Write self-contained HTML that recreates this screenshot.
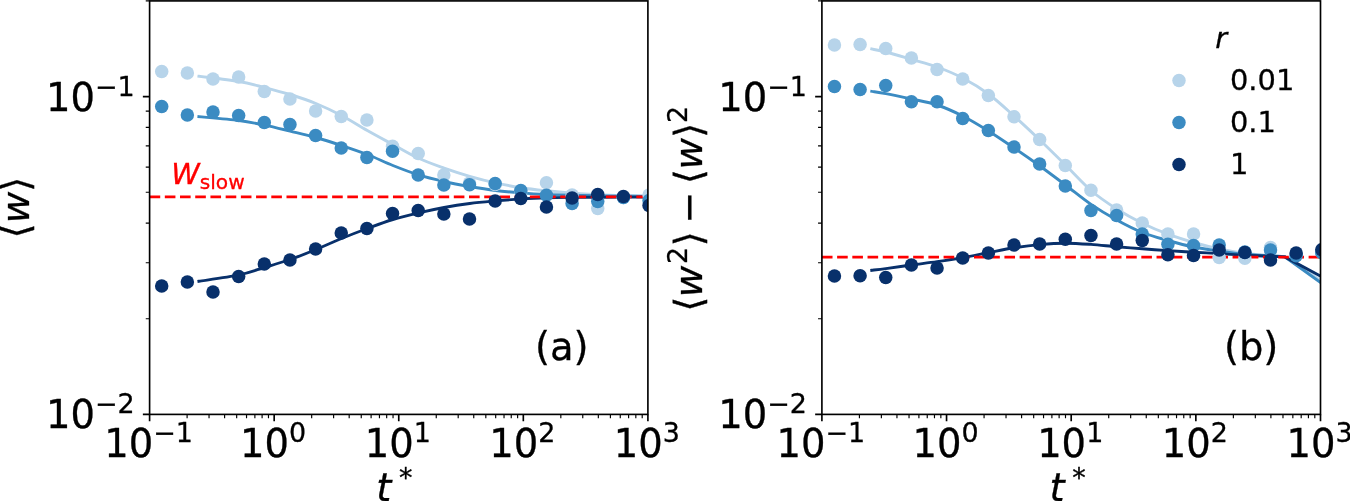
<!DOCTYPE html>
<html lang="en"><head><meta charset="utf-8"><title>Relaxation of w</title>
<style>html,body{margin:0;padding:0;background:#fff;overflow:hidden}svg{display:block;will-change:transform}text{font-family:"DejaVu Sans", "Liberation Sans", sans-serif;fill:#000;stroke:#000;stroke-width:.3px}.it{font-style:italic}</style></head><body>
<svg width="1350" height="501" viewBox="0 0 1350 501">
<rect width="1350" height="501" fill="#fff"/>
<defs>
<clipPath id="clipa"><rect x="149.60" y="0.90" width="498.30" height="413.50"/></clipPath>
<clipPath id="clipb"><rect x="821.90" y="0.90" width="498.60" height="413.50"/></clipPath>
</defs>
<g id="axes-a">
<g clip-path="url(#clipa)" fill="none" stroke-linecap="butt" stroke-linejoin="round">
<path d="M198.90,76.30 C205.57,77.17 227.97,79.63 238.90,81.50 C249.83,83.37 255.97,85.33 264.50,87.50 C273.03,89.67 281.53,91.83 290.10,94.50 C298.67,97.17 307.33,100.00 315.90,103.50 C324.47,107.00 332.93,111.00 341.50,115.50 C350.07,120.00 358.73,125.67 367.30,130.50 C375.87,135.33 384.37,139.87 392.90,144.50 C401.43,149.13 409.97,154.37 418.50,158.30 C427.03,162.23 435.57,165.10 444.10,168.10 C452.63,171.10 461.13,173.83 469.70,176.30 C478.27,178.77 486.93,181.00 495.50,182.90 C504.07,184.80 512.57,186.38 521.10,187.70 C529.63,189.02 538.17,189.90 546.70,190.80 C555.23,191.70 563.77,192.47 572.30,193.10 C580.83,193.73 589.40,194.20 597.90,194.60 C606.40,195.00 614.92,195.27 623.30,195.50 C631.68,195.73 644.05,195.92 648.20,196.00" stroke="#b7d4ea" stroke-width="2.90" stroke-linecap="square"/>
<path d="M198.90,116.60 C205.57,117.25 227.97,119.08 238.90,120.50 C249.83,121.92 255.97,123.33 264.50,125.10 C273.03,126.87 281.53,129.03 290.10,131.10 C298.67,133.17 307.33,135.10 315.90,137.50 C324.47,139.90 332.93,142.67 341.50,145.50 C350.07,148.33 358.73,151.17 367.30,154.50 C375.87,157.83 384.37,162.10 392.90,165.50 C401.43,168.90 409.97,172.23 418.50,174.90 C427.03,177.57 435.57,179.57 444.10,181.50 C452.63,183.43 461.13,185.00 469.70,186.50 C478.27,188.00 486.93,189.43 495.50,190.50 C504.07,191.57 512.57,192.23 521.10,192.90 C529.63,193.57 538.17,194.10 546.70,194.50 C555.23,194.90 563.77,195.08 572.30,195.30 C580.83,195.52 589.40,195.67 597.90,195.80 C606.40,195.93 614.92,196.00 623.30,196.10 C631.68,196.20 644.05,196.35 648.20,196.40" stroke="#3b8bc2" stroke-width="2.90" stroke-linecap="square"/>
<path d="M198.90,281.30 C205.57,280.23 227.97,277.20 238.90,274.90 C249.83,272.60 255.97,270.07 264.50,267.50 C273.03,264.93 281.53,262.50 290.10,259.50 C298.67,256.50 307.33,253.00 315.90,249.50 C324.47,246.00 332.93,242.00 341.50,238.50 C350.07,235.00 358.73,231.67 367.30,228.50 C375.87,225.33 384.37,222.10 392.90,219.50 C401.43,216.90 409.97,214.90 418.50,212.90 C427.03,210.90 435.57,209.07 444.10,207.50 C452.63,205.93 461.13,204.60 469.70,203.50 C478.27,202.40 486.93,201.67 495.50,200.90 C504.07,200.13 512.57,199.43 521.10,198.90 C529.63,198.37 538.17,197.97 546.70,197.70 C555.23,197.43 563.77,197.38 572.30,197.30 C580.83,197.22 589.40,197.23 597.90,197.20 C606.40,197.17 614.92,197.12 623.30,197.10 C631.68,197.08 644.05,197.10 648.20,197.10" stroke="#08306b" stroke-width="2.90" stroke-linecap="square"/>
<path d="M149.60,196.90 H647.90" stroke="#ff0000" stroke-width="2.9" stroke-dasharray="10.62 4.59"/>
<g fill="#b7d4ea"><circle cx="161.70" cy="71.50" r="6.75"/><circle cx="187.35" cy="73.10" r="6.75"/><circle cx="213.00" cy="79.10" r="6.75"/><circle cx="238.65" cy="77.10" r="6.75"/><circle cx="264.30" cy="91.50" r="6.75"/><circle cx="289.95" cy="99.10" r="6.75"/><circle cx="315.60" cy="111.10" r="6.75"/><circle cx="341.25" cy="116.50" r="6.75"/><circle cx="366.90" cy="119.90" r="6.75"/><circle cx="392.55" cy="146.30" r="6.75"/><circle cx="418.20" cy="153.50" r="6.75"/><circle cx="443.85" cy="174.90" r="6.75"/><circle cx="469.50" cy="183.10" r="6.75"/><circle cx="495.15" cy="184.50" r="6.75"/><circle cx="520.80" cy="191.50" r="6.75"/><circle cx="546.45" cy="182.70" r="6.75"/><circle cx="572.10" cy="194.90" r="6.75"/><circle cx="597.75" cy="208.50" r="6.75"/><circle cx="623.40" cy="197.50" r="6.75"/><circle cx="649.05" cy="194.90" r="6.75"/></g>
<g fill="#3b8bc2"><circle cx="161.70" cy="106.50" r="6.75"/><circle cx="187.35" cy="114.90" r="6.75"/><circle cx="213.00" cy="111.90" r="6.75"/><circle cx="238.65" cy="115.50" r="6.75"/><circle cx="264.30" cy="122.50" r="6.75"/><circle cx="289.95" cy="124.50" r="6.75"/><circle cx="315.60" cy="135.50" r="6.75"/><circle cx="341.25" cy="147.90" r="6.75"/><circle cx="366.90" cy="157.50" r="6.75"/><circle cx="392.55" cy="151.30" r="6.75"/><circle cx="418.20" cy="174.90" r="6.75"/><circle cx="443.85" cy="184.90" r="6.75"/><circle cx="469.50" cy="184.80" r="6.75"/><circle cx="495.15" cy="183.50" r="6.75"/><circle cx="520.80" cy="190.50" r="6.75"/><circle cx="546.45" cy="195.30" r="6.75"/><circle cx="572.10" cy="203.50" r="6.75"/><circle cx="597.75" cy="201.50" r="6.75"/><circle cx="623.40" cy="197.50" r="6.75"/><circle cx="649.05" cy="200.50" r="6.75"/></g>
<g fill="#08306b"><circle cx="161.70" cy="286.10" r="6.75"/><circle cx="187.35" cy="282.10" r="6.75"/><circle cx="213.00" cy="292.10" r="6.75"/><circle cx="238.65" cy="276.50" r="6.75"/><circle cx="264.30" cy="264.10" r="6.75"/><circle cx="289.95" cy="260.10" r="6.75"/><circle cx="315.60" cy="248.90" r="6.75"/><circle cx="341.25" cy="233.10" r="6.75"/><circle cx="366.90" cy="228.50" r="6.75"/><circle cx="392.55" cy="213.50" r="6.75"/><circle cx="418.20" cy="210.50" r="6.75"/><circle cx="443.85" cy="213.90" r="6.75"/><circle cx="469.50" cy="218.90" r="6.75"/><circle cx="495.15" cy="200.90" r="6.75"/><circle cx="520.80" cy="198.50" r="6.75"/><circle cx="546.45" cy="206.90" r="6.75"/><circle cx="572.10" cy="198.10" r="6.75"/><circle cx="597.75" cy="194.50" r="6.75"/><circle cx="623.40" cy="196.50" r="6.75"/><circle cx="649.05" cy="205.50" r="6.75"/></g>
</g>
<path d="M149.60,414.40 v6.74 M274.17,414.40 v6.74 M398.75,414.40 v6.74 M523.32,414.40 v6.74 M647.90,414.40 v6.74 M149.60,414.40 h-6.74 M149.60,96.60 h-6.74" stroke="#000" stroke-width="1.65" fill="none"/>
<path d="M187.10,414.40 v3.85 M209.04,414.40 v3.85 M224.60,414.40 v3.85 M236.67,414.40 v3.85 M246.54,414.40 v3.85 M254.88,414.40 v3.85 M262.10,414.40 v3.85 M268.47,414.40 v3.85 M311.68,414.40 v3.85 M333.61,414.40 v3.85 M349.18,414.40 v3.85 M361.25,414.40 v3.85 M371.11,414.40 v3.85 M379.45,414.40 v3.85 M386.68,414.40 v3.85 M393.05,414.40 v3.85 M436.25,414.40 v3.85 M458.19,414.40 v3.85 M473.75,414.40 v3.85 M485.82,414.40 v3.85 M495.69,414.40 v3.85 M504.03,414.40 v3.85 M511.25,414.40 v3.85 M517.62,414.40 v3.85 M560.83,414.40 v3.85 M582.76,414.40 v3.85 M598.33,414.40 v3.85 M610.40,414.40 v3.85 M620.26,414.40 v3.85 M628.60,414.40 v3.85 M635.83,414.40 v3.85 M642.20,414.40 v3.85 M149.60,318.73 h-3.85 M149.60,262.77 h-3.85 M149.60,223.07 h-3.85 M149.60,192.27 h-3.85 M149.60,167.10 h-3.85 M149.60,145.83 h-3.85 M149.60,127.40 h-3.85 M149.60,111.14 h-3.85 M149.60,0.93 h-3.85" stroke="#000" stroke-width="1.16" fill="none"/>
<rect x="149.60" y="0.90" width="498.30" height="413.50" fill="none" stroke="#000" stroke-width="1.65"/>
<text x="104.24" y="456.70" font-size="38.50" text-anchor="start">10<tspan font-size="26.95" dy="-15.10">−1</tspan></text>
<text x="240.11" y="456.70" font-size="38.50" text-anchor="start">10<tspan font-size="26.95" dy="-15.10">0</tspan></text>
<text x="364.68" y="456.70" font-size="38.50" text-anchor="start">10<tspan font-size="26.95" dy="-15.10">1</tspan></text>
<text x="489.26" y="456.70" font-size="38.50" text-anchor="start">10<tspan font-size="26.95" dy="-15.10">2</tspan></text>
<text x="613.83" y="456.70" font-size="38.50" text-anchor="start">10<tspan font-size="26.95" dy="-15.10">3</tspan></text>
<text x="45.98" y="428.00" font-size="38.50" text-anchor="start">10<tspan font-size="26.95" dy="-15.10">−2</tspan></text>
<text x="45.98" y="111.40" font-size="38.50" text-anchor="start">10<tspan font-size="26.95" dy="-15.10">−1</tspan></text>
<text font-size="38.50"><tspan class="it" x="376.30" y="500.7">t</tspan><tspan font-size="26.95" x="399.10" y="486.7">*</tspan></text>
</g>
<g id="axes-b">
<g clip-path="url(#clipb)" fill="none" stroke-linecap="butt" stroke-linejoin="round">
<path d="M871.75,49.00 C874.10,49.50 879.23,50.27 885.85,52.00 C892.47,53.73 902.92,56.90 911.45,59.40 C919.98,61.90 928.52,63.90 937.05,67.00 C945.58,70.10 954.08,73.50 962.65,78.00 C971.22,82.50 979.88,87.67 988.45,94.00 C997.02,100.33 1005.48,108.33 1014.05,116.00 C1022.62,123.67 1031.28,131.83 1039.85,140.00 C1048.42,148.17 1056.92,156.58 1065.45,165.00 C1073.98,173.42 1082.50,183.17 1091.05,190.50 C1099.60,197.83 1108.20,203.55 1116.75,209.00 C1125.30,214.45 1133.80,219.00 1142.35,223.20 C1150.90,227.40 1159.50,230.98 1168.05,234.20 C1176.60,237.42 1185.10,240.03 1193.65,242.50 C1202.20,244.97 1210.80,247.18 1219.35,249.00 C1227.90,250.82 1236.40,252.30 1244.95,253.40 C1253.50,254.50 1264.02,255.07 1270.65,255.60 C1277.28,256.13 1282.40,256.43 1284.75,256.60 L1320.50,280.50" stroke="#b7d4ea" stroke-width="2.90" stroke-linecap="square"/>
<path d="M871.75,91.40 C874.10,91.77 879.23,92.33 885.85,93.60 C892.47,94.87 902.92,97.10 911.45,99.00 C919.98,100.90 928.52,102.17 937.05,105.00 C945.58,107.83 954.08,111.67 962.65,116.00 C971.22,120.33 979.88,125.67 988.45,131.00 C997.02,136.33 1005.48,142.17 1014.05,148.00 C1022.62,153.83 1031.28,159.83 1039.85,166.00 C1048.42,172.17 1056.92,178.60 1065.45,185.00 C1073.98,191.40 1082.50,198.57 1091.05,204.40 C1099.60,210.23 1108.20,215.32 1116.75,220.00 C1125.30,224.68 1133.80,229.08 1142.35,232.50 C1150.90,235.92 1159.50,238.08 1168.05,240.50 C1176.60,242.92 1185.10,245.25 1193.65,247.00 C1202.20,248.75 1210.80,249.80 1219.35,251.00 C1227.90,252.20 1236.40,253.40 1244.95,254.20 C1253.50,255.00 1264.02,255.38 1270.65,255.80 C1277.28,256.22 1282.40,256.55 1284.75,256.70 L1320.50,282.50" stroke="#3b8bc2" stroke-width="2.90" stroke-linecap="square"/>
<path d="M871.75,270.30 C874.10,270.02 879.23,269.48 885.85,268.60 C892.47,267.72 902.92,266.17 911.45,265.00 C919.98,263.83 928.52,262.83 937.05,261.60 C945.58,260.37 954.08,259.10 962.65,257.60 C971.22,256.10 979.88,254.23 988.45,252.60 C997.02,250.97 1005.48,249.13 1014.05,247.80 C1022.62,246.47 1031.28,245.37 1039.85,244.60 C1048.42,243.83 1056.92,243.23 1065.45,243.20 C1073.98,243.17 1082.50,243.80 1091.05,244.40 C1099.60,245.00 1108.20,246.07 1116.75,246.80 C1125.30,247.53 1133.80,248.17 1142.35,248.80 C1150.90,249.43 1159.50,250.03 1168.05,250.60 C1176.60,251.17 1185.10,251.70 1193.65,252.20 C1202.20,252.70 1210.80,253.08 1219.35,253.60 C1227.90,254.12 1236.40,254.85 1244.95,255.30 C1253.50,255.75 1264.02,256.03 1270.65,256.30 C1277.28,256.57 1282.40,256.80 1284.75,256.90 L1320.50,276.20" stroke="#08306b" stroke-width="2.90" stroke-linecap="square"/>
<path d="M821.90,257.10 H1320.50" stroke="#ff0000" stroke-width="2.9" stroke-dasharray="10.62 4.59"/>
<g fill="#b7d4ea"><circle cx="834.45" cy="45.00" r="6.75"/><circle cx="860.10" cy="44.60" r="6.75"/><circle cx="885.75" cy="48.60" r="6.75"/><circle cx="911.40" cy="58.00" r="6.75"/><circle cx="937.05" cy="69.40" r="6.75"/><circle cx="962.70" cy="79.00" r="6.75"/><circle cx="988.35" cy="95.50" r="6.75"/><circle cx="1014.00" cy="116.80" r="6.75"/><circle cx="1039.65" cy="139.40" r="6.75"/><circle cx="1065.30" cy="165.60" r="6.75"/><circle cx="1090.95" cy="190.20" r="6.75"/><circle cx="1116.60" cy="210.00" r="6.75"/><circle cx="1142.25" cy="223.00" r="6.75"/><circle cx="1167.90" cy="233.90" r="6.75"/><circle cx="1193.55" cy="233.90" r="6.75"/><circle cx="1219.20" cy="257.60" r="6.75"/><circle cx="1244.85" cy="258.30" r="6.75"/><circle cx="1270.50" cy="247.40" r="6.75"/><circle cx="1296.15" cy="254.00" r="6.75"/><circle cx="1321.80" cy="252.00" r="6.75"/></g>
<g fill="#3b8bc2"><circle cx="834.45" cy="86.60" r="6.75"/><circle cx="860.10" cy="89.40" r="6.75"/><circle cx="885.75" cy="85.40" r="6.75"/><circle cx="911.40" cy="101.80" r="6.75"/><circle cx="937.05" cy="101.80" r="6.75"/><circle cx="962.70" cy="118.60" r="6.75"/><circle cx="988.35" cy="130.50" r="6.75"/><circle cx="1014.00" cy="147.00" r="6.75"/><circle cx="1039.65" cy="164.00" r="6.75"/><circle cx="1065.30" cy="186.00" r="6.75"/><circle cx="1090.95" cy="210.60" r="6.75"/><circle cx="1116.60" cy="215.40" r="6.75"/><circle cx="1142.25" cy="234.00" r="6.75"/><circle cx="1167.90" cy="244.30" r="6.75"/><circle cx="1193.55" cy="245.50" r="6.75"/><circle cx="1219.20" cy="245.00" r="6.75"/><circle cx="1244.85" cy="252.00" r="6.75"/><circle cx="1270.50" cy="249.90" r="6.75"/><circle cx="1296.15" cy="255.80" r="6.75"/><circle cx="1321.80" cy="252.70" r="6.75"/></g>
<g fill="#08306b"><circle cx="834.45" cy="276.00" r="6.75"/><circle cx="860.10" cy="275.70" r="6.75"/><circle cx="885.75" cy="277.50" r="6.75"/><circle cx="911.40" cy="265.00" r="6.75"/><circle cx="937.05" cy="268.00" r="6.75"/><circle cx="962.70" cy="258.00" r="6.75"/><circle cx="988.35" cy="253.00" r="6.75"/><circle cx="1014.00" cy="245.00" r="6.75"/><circle cx="1039.65" cy="244.00" r="6.75"/><circle cx="1065.30" cy="239.30" r="6.75"/><circle cx="1090.95" cy="235.50" r="6.75"/><circle cx="1116.60" cy="244.00" r="6.75"/><circle cx="1142.25" cy="240.60" r="6.75"/><circle cx="1167.90" cy="254.80" r="6.75"/><circle cx="1193.55" cy="255.50" r="6.75"/><circle cx="1219.20" cy="249.90" r="6.75"/><circle cx="1244.85" cy="252.50" r="6.75"/><circle cx="1270.50" cy="260.00" r="6.75"/><circle cx="1296.15" cy="253.00" r="6.75"/><circle cx="1321.80" cy="249.70" r="6.75"/></g>
</g>
<path d="M821.90,414.40 v6.74 M946.55,414.40 v6.74 M1071.20,414.40 v6.74 M1195.85,414.40 v6.74 M1320.50,414.40 v6.74 M821.90,414.40 h-6.74 M821.90,96.60 h-6.74" stroke="#000" stroke-width="1.65" fill="none"/>
<path d="M859.42,414.40 v3.85 M881.37,414.40 v3.85 M896.95,414.40 v3.85 M909.03,414.40 v3.85 M918.90,414.40 v3.85 M927.24,414.40 v3.85 M934.47,414.40 v3.85 M940.85,414.40 v3.85 M984.07,414.40 v3.85 M1006.02,414.40 v3.85 M1021.60,414.40 v3.85 M1033.68,414.40 v3.85 M1043.55,414.40 v3.85 M1051.89,414.40 v3.85 M1059.12,414.40 v3.85 M1065.50,414.40 v3.85 M1108.72,414.40 v3.85 M1130.67,414.40 v3.85 M1146.25,414.40 v3.85 M1158.33,414.40 v3.85 M1168.20,414.40 v3.85 M1176.54,414.40 v3.85 M1183.77,414.40 v3.85 M1190.15,414.40 v3.85 M1233.37,414.40 v3.85 M1255.32,414.40 v3.85 M1270.90,414.40 v3.85 M1282.98,414.40 v3.85 M1292.85,414.40 v3.85 M1301.19,414.40 v3.85 M1308.42,414.40 v3.85 M1314.80,414.40 v3.85 M821.90,318.73 h-3.85 M821.90,262.77 h-3.85 M821.90,223.07 h-3.85 M821.90,192.27 h-3.85 M821.90,167.10 h-3.85 M821.90,145.83 h-3.85 M821.90,127.40 h-3.85 M821.90,111.14 h-3.85 M821.90,0.93 h-3.85" stroke="#000" stroke-width="1.16" fill="none"/>
<rect x="821.90" y="0.90" width="498.60" height="413.50" fill="none" stroke="#000" stroke-width="1.65"/>
<text x="776.54" y="456.70" font-size="38.50" text-anchor="start">10<tspan font-size="26.95" dy="-15.10">−1</tspan></text>
<text x="912.48" y="456.70" font-size="38.50" text-anchor="start">10<tspan font-size="26.95" dy="-15.10">0</tspan></text>
<text x="1037.13" y="456.70" font-size="38.50" text-anchor="start">10<tspan font-size="26.95" dy="-15.10">1</tspan></text>
<text x="1161.78" y="456.70" font-size="38.50" text-anchor="start">10<tspan font-size="26.95" dy="-15.10">2</tspan></text>
<text x="1286.43" y="456.70" font-size="38.50" text-anchor="start">10<tspan font-size="26.95" dy="-15.10">3</tspan></text>
<text x="718.28" y="428.00" font-size="38.50" text-anchor="start">10<tspan font-size="26.95" dy="-15.10">−2</tspan></text>
<text x="718.28" y="111.40" font-size="38.50" text-anchor="start">10<tspan font-size="26.95" dy="-15.10">−1</tspan></text>
<text font-size="38.50"><tspan class="it" x="1049.45" y="500.7">t</tspan><tspan font-size="26.95" x="1072.25" y="486.7">*</tspan></text>
</g>
<text x="535.0" y="359.9" font-size="38.50">(a)</text>
<text x="1223.9" y="359.9" font-size="38.50">(b)</text>
<text x="171.2" y="184.2" font-size="28.875" style="fill:#ff0000;stroke:#ff0000"><tspan class="it">W</tspan><tspan font-size="20.2" dy="5.0">slow</tspan></text>
<text transform="translate(28.7,207.6) rotate(-90)" font-size="38.50" text-anchor="middle">⟨<tspan class="it">w</tspan>⟩</text>
<text transform="translate(701.5,308.4) rotate(-90)" font-size="38.50"><tspan x="-3.44" y="0.00" font-size="38.50">⟨</tspan><tspan x="11.10" y="0.00" font-size="38.50" class="it">w</tspan><tspan x="44.50" y="-14.50" font-size="26.95">2</tspan><tspan x="62.20" y="0.00" font-size="38.50">⟩</tspan><tspan x="84.70" y="0.00" font-size="38.50">−</tspan><tspan x="124.26" y="0.00" font-size="38.50">⟨</tspan><tspan x="138.95" y="0.00" font-size="38.50" class="it">w</tspan><tspan x="170.60" y="0.00" font-size="38.50">⟩</tspan><tspan x="185.40" y="-14.50" font-size="26.95">2</tspan></text>
<text x="1215.3" y="47.9" font-size="28.88" class="it">r</text>
<circle cx="1179" cy="80.50" r="6.75" fill="#b7d4ea"/>
<text x="1230.0" y="90.20" font-size="28.88">0.01</text>
<circle cx="1179" cy="122.50" r="6.75" fill="#3b8bc2"/>
<text x="1230.0" y="132.20" font-size="28.88">0.1</text>
<circle cx="1179" cy="164.50" r="6.75" fill="#08306b"/>
<text x="1230.0" y="174.20" font-size="28.88">1</text>
</svg></body></html>
